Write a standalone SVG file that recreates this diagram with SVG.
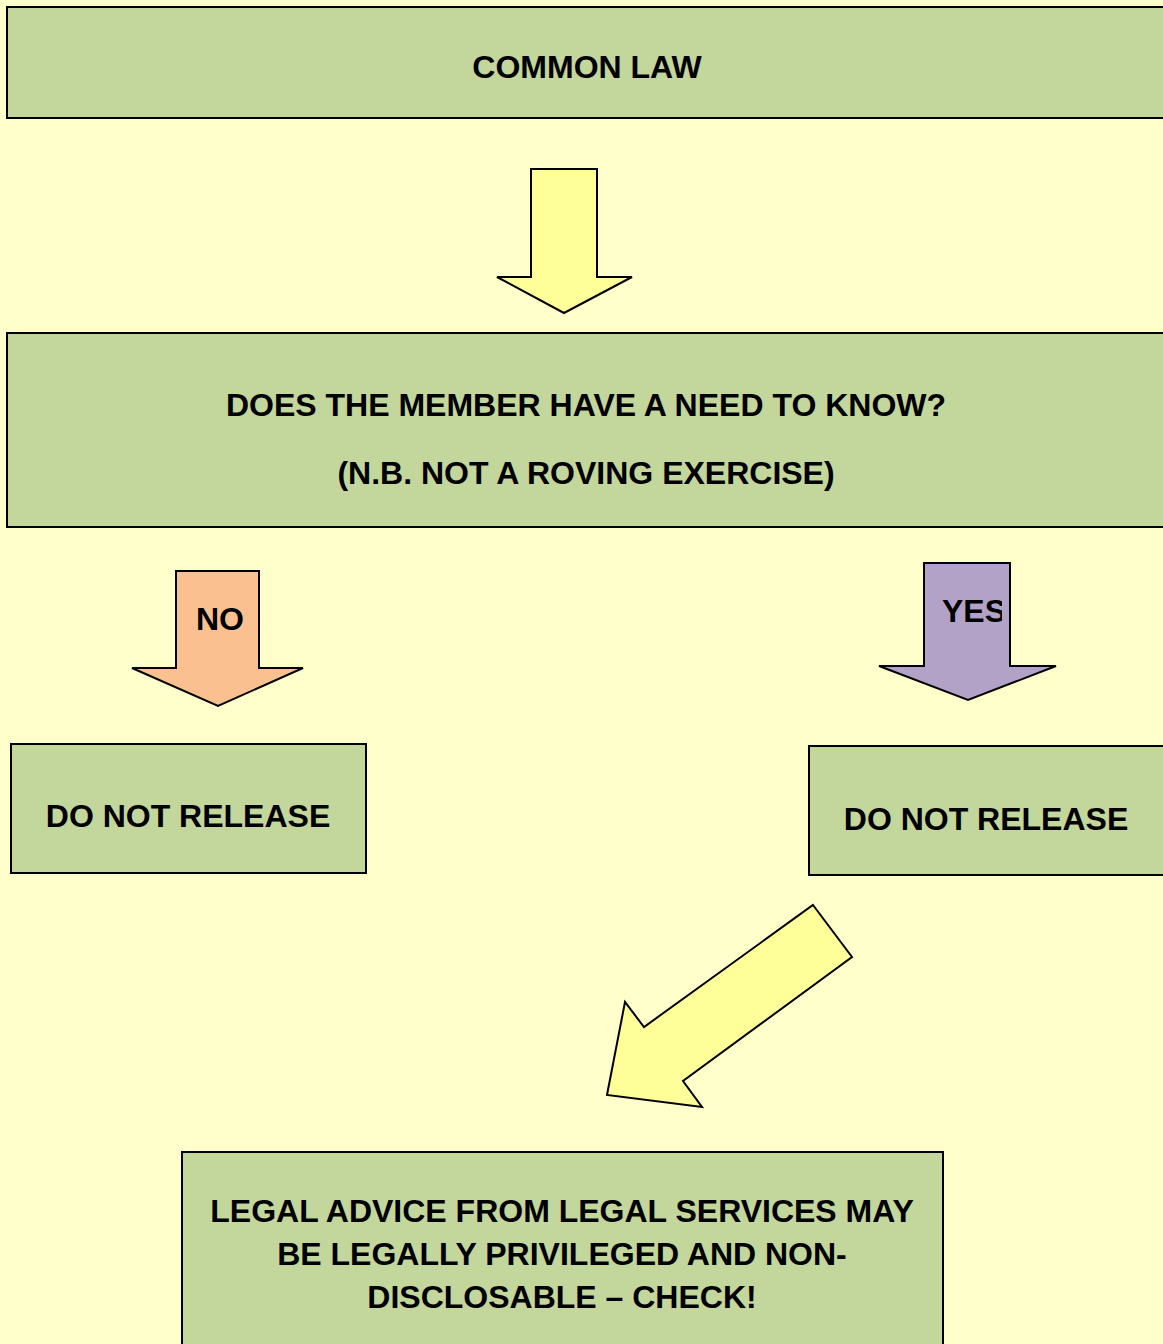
<svg xmlns="http://www.w3.org/2000/svg" width="1163" height="1344" viewBox="0 0 1163 1344">
<style>
.box{fill:#C3D69B;stroke:#000;stroke-width:2}
.arr{stroke:#000;stroke-width:2;stroke-linejoin:miter}
.y{fill:#FFFF99}
.o{fill:#FAC090}
.p{fill:#B3A2C7}
text{font-family:"Liberation Sans",Arial,sans-serif;font-weight:bold;font-size:32px;fill:#000;text-anchor:middle}
</style>
<defs>
<clipPath id="yesclip"><rect x="925" y="564" width="77" height="100"/></clipPath>
</defs>
<rect width="1163" height="1344" fill="#FFFFCC"/>
<g id="common-law">
<rect class="box" x="7" y="7" width="1160" height="111"/>
<text x="587" y="78">COMMON LAW</text>
</g>
<g id="need-to-know">
<rect class="box" x="7" y="333" width="1160" height="194"/>
<text x="586" y="416">DOES THE MEMBER HAVE A NEED TO KNOW?</text>
<text x="586" y="484">(N.B. NOT A ROVING EXERCISE)</text>
</g>
<g id="release-no">
<rect class="box" x="11" y="744" width="355" height="129"/>
<text x="188" y="827">DO NOT RELEASE</text>
</g>
<g id="release-yes">
<rect class="box" x="809" y="746" width="360" height="129"/>
<text x="986" y="830">DO NOT RELEASE</text>
</g>
<g id="legal-advice">
<rect class="box" x="182" y="1152" width="761" height="200"/>
<text x="562" y="1222">LEGAL ADVICE FROM LEGAL SERVICES MAY</text>
<text x="562" y="1265">BE LEGALLY PRIVILEGED AND NON-</text>
<text x="562" y="1308">DISCLOSABLE – CHECK!</text>
</g>
<g id="connectors">
<polygon class="arr y" points="531,169 597,169 597,277 632,277 564,313 497,277 531,277"/>
<g id="arrow-no">
<polygon class="arr o" points="176,571 259,571 259,668 303,668 218,706 132,668 176,668"/>
<text x="220" y="630">NO</text>
</g>
<g id="arrow-yes">
<polygon class="arr p" points="924,563 1010,563 1010,666 1056,666 968,700 879,666 924,666"/>
<text x="942" y="622" clip-path="url(#yesclip)" style="text-anchor:start">YES</text>
</g>
<polygon class="arr y" points="813,905 852,957 683,1081 702,1107 607,1095 625,1002 644,1027"/>
</g>
</svg>
